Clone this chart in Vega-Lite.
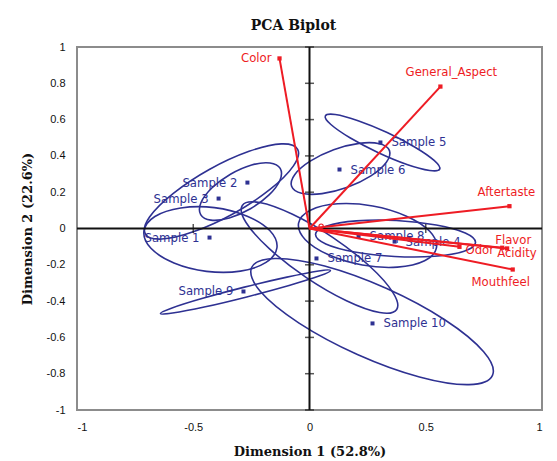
{
  "$schema": "https://vega.github.io/schema/vega-lite/v6.json",
  "width": 465,
  "height": 363,
  "autosize": "none",
  "padding": {"left": 77, "top": 47, "right": 15, "bottom": 51},
  "background": "white",
  "title": {"text": "PCA Biplot", "font": "DejaVu Serif", "fontSize": 14, "fontWeight": "bold", "color": "#111111", "offset": 8, "dx": -16},
  "config": {
    "view": {"stroke": "#8c8c8c", "strokeWidth": 2},
    "axis": {"grid": false, "ticks": false, "domain": false, "labelOverlap": false, "labelFont": "Liberation Sans", "labelFontSize": 11, "labelColor": "#111111", "titleFont": "DejaVu Serif", "titleFontSize": 13, "titleFontWeight": "bold", "titleColor": "#111111"}
  },
  "datasets": {
    "ellipses": [
      {"s":"Sample 1","i":0,"x":-0.140,"y":-0.106},{"s":"Sample 1","i":1,"x":-0.187,"y":-0.187},{"s":"Sample 1","i":2,"x":-0.297,"y":-0.235},{"s":"Sample 1","i":3,"x":-0.443,"y":-0.236},{"s":"Sample 1","i":4,"x":-0.583,"y":-0.190},{"s":"Sample 1","i":5,"x":-0.682,"y":-0.109},{"s":"Sample 1","i":6,"x":-0.712,"y":-0.015},{"s":"Sample 1","i":7,"x":-0.665,"y":0.066},{"s":"Sample 1","i":8,"x":-0.554,"y":0.113},{"s":"Sample 1","i":9,"x":-0.409,"y":0.115},{"s":"Sample 1","i":10,"x":-0.268,"y":0.068},{"s":"Sample 1","i":11,"x":-0.170,"y":-0.012},
      {"s":"Sample 2","i":0,"x":-0.126,"y":0.331},{"s":"Sample 2","i":1,"x":-0.127,"y":0.266},{"s":"Sample 2","i":2,"x":-0.174,"y":0.185},{"s":"Sample 2","i":3,"x":-0.254,"y":0.109},{"s":"Sample 2","i":4,"x":-0.345,"y":0.058},{"s":"Sample 2","i":5,"x":-0.424,"y":0.046},{"s":"Sample 2","i":6,"x":-0.468,"y":0.077},{"s":"Sample 2","i":7,"x":-0.467,"y":0.142},{"s":"Sample 2","i":8,"x":-0.420,"y":0.223},{"s":"Sample 2","i":9,"x":-0.340,"y":0.299},{"s":"Sample 2","i":10,"x":-0.249,"y":0.350},{"s":"Sample 2","i":11,"x":-0.170,"y":0.361},
      {"s":"Sample 3","i":0,"x":-0.051,"y":0.436},{"s":"Sample 3","i":1,"x":-0.069,"y":0.345},{"s":"Sample 3","i":2,"x":-0.170,"y":0.215},{"s":"Sample 3","i":3,"x":-0.326,"y":0.083},{"s":"Sample 3","i":4,"x":-0.497,"y":-0.017},{"s":"Sample 3","i":5,"x":-0.636,"y":-0.058},{"s":"Sample 3","i":6,"x":-0.706,"y":-0.029},{"s":"Sample 3","i":7,"x":-0.688,"y":0.063},{"s":"Sample 3","i":8,"x":-0.587,"y":0.192},{"s":"Sample 3","i":9,"x":-0.431,"y":0.325},{"s":"Sample 3","i":10,"x":-0.260,"y":0.425},{"s":"Sample 3","i":11,"x":-0.121,"y":0.466},
      {"s":"Sample 4","i":0,"x":0.714,"y":-0.078},{"s":"Sample 4","i":1,"x":0.665,"y":-0.125},{"s":"Sample 4","i":2,"x":0.538,"y":-0.153},{"s":"Sample 4","i":3,"x":0.366,"y":-0.154},{"s":"Sample 4","i":4,"x":0.194,"y":-0.129},{"s":"Sample 4","i":5,"x":0.070,"y":-0.085},{"s":"Sample 4","i":6,"x":0.026,"y":-0.032},{"s":"Sample 4","i":7,"x":0.074,"y":0.014},{"s":"Sample 4","i":8,"x":0.202,"y":0.042},{"s":"Sample 4","i":9,"x":0.374,"y":0.044},{"s":"Sample 4","i":10,"x":0.545,"y":0.019},{"s":"Sample 4","i":11,"x":0.670,"y":-0.025},
      {"s":"Sample 5","i":0,"x":0.560,"y":0.327},{"s":"Sample 5","i":1,"x":0.517,"y":0.320},{"s":"Sample 5","i":2,"x":0.419,"y":0.353},{"s":"Sample 5","i":3,"x":0.294,"y":0.419},{"s":"Sample 5","i":4,"x":0.174,"y":0.500},{"s":"Sample 5","i":5,"x":0.092,"y":0.573},{"s":"Sample 5","i":6,"x":0.068,"y":0.620},{"s":"Sample 5","i":7,"x":0.111,"y":0.628},{"s":"Sample 5","i":8,"x":0.209,"y":0.594},{"s":"Sample 5","i":9,"x":0.334,"y":0.529},{"s":"Sample 5","i":10,"x":0.454,"y":0.448},{"s":"Sample 5","i":11,"x":0.536,"y":0.375},
      {"s":"Sample 6","i":0,"x":0.344,"y":0.429},{"s":"Sample 6","i":1,"x":0.330,"y":0.364},{"s":"Sample 6","i":2,"x":0.264,"y":0.290},{"s":"Sample 6","i":3,"x":0.163,"y":0.227},{"s":"Sample 6","i":4,"x":0.054,"y":0.192},{"s":"Sample 6","i":5,"x":-0.034,"y":0.194},{"s":"Sample 6","i":6,"x":-0.077,"y":0.233},{"s":"Sample 6","i":7,"x":-0.063,"y":0.298},{"s":"Sample 6","i":8,"x":0.003,"y":0.371},{"s":"Sample 6","i":9,"x":0.104,"y":0.434},{"s":"Sample 6","i":10,"x":0.213,"y":0.469},{"s":"Sample 6","i":11,"x":0.301,"y":0.467},
      {"s":"Sample 7","i":0,"x":0.375,"y":-0.446},{"s":"Sample 7","i":1,"x":0.302,"y":-0.463},{"s":"Sample 7","i":2,"x":0.159,"y":-0.398},{"s":"Sample 7","i":3,"x":-0.015,"y":-0.269},{"s":"Sample 7","i":4,"x":-0.173,"y":-0.111},{"s":"Sample 7","i":5,"x":-0.273,"y":0.033},{"s":"Sample 7","i":6,"x":-0.289,"y":0.127},{"s":"Sample 7","i":7,"x":-0.215,"y":0.143},{"s":"Sample 7","i":8,"x":-0.073,"y":0.078},{"s":"Sample 7","i":9,"x":0.101,"y":-0.050},{"s":"Sample 7","i":10,"x":0.259,"y":-0.208},{"s":"Sample 7","i":11,"x":0.359,"y":-0.353},
      {"s":"Sample 8","i":0,"x":0.546,"y":-0.106},{"s":"Sample 8","i":1,"x":0.495,"y":-0.178},{"s":"Sample 8","i":2,"x":0.378,"y":-0.213},{"s":"Sample 8","i":3,"x":0.227,"y":-0.201},{"s":"Sample 8","i":4,"x":0.082,"y":-0.145},{"s":"Sample 8","i":5,"x":-0.018,"y":-0.062},{"s":"Sample 8","i":6,"x":-0.047,"y":0.029},{"s":"Sample 8","i":7,"x":0.004,"y":0.101},{"s":"Sample 8","i":8,"x":0.121,"y":0.136},{"s":"Sample 8","i":9,"x":0.272,"y":0.124},{"s":"Sample 8","i":10,"x":0.417,"y":0.068},{"s":"Sample 8","i":11,"x":0.517,"y":-0.015},
      {"s":"Sample 9","i":0,"x":0.090,"y":-0.231},{"s":"Sample 9","i":1,"x":0.044,"y":-0.261},{"s":"Sample 9","i":2,"x":-0.088,"y":-0.314},{"s":"Sample 9","i":3,"x":-0.270,"y":-0.377},{"s":"Sample 9","i":4,"x":-0.453,"y":-0.433},{"s":"Sample 9","i":5,"x":-0.589,"y":-0.466},{"s":"Sample 9","i":6,"x":-0.641,"y":-0.468},{"s":"Sample 9","i":7,"x":-0.594,"y":-0.439},{"s":"Sample 9","i":8,"x":-0.463,"y":-0.386},{"s":"Sample 9","i":9,"x":-0.280,"y":-0.323},{"s":"Sample 9","i":10,"x":-0.097,"y":-0.268},{"s":"Sample 9","i":11,"x":0.039,"y":-0.234},
      {"s":"Sample 10","i":0,"x":0.787,"y":-0.809},{"s":"Sample 10","i":1,"x":0.686,"y":-0.860},{"s":"Sample 10","i":2,"x":0.473,"y":-0.818},{"s":"Sample 10","i":3,"x":0.206,"y":-0.694},{"s":"Sample 10","i":4,"x":-0.045,"y":-0.521},{"s":"Sample 10","i":5,"x":-0.212,"y":-0.346},{"s":"Sample 10","i":6,"x":-0.249,"y":-0.215},{"s":"Sample 10","i":7,"x":-0.148,"y":-0.165},{"s":"Sample 10","i":8,"x":0.065,"y":-0.207},{"s":"Sample 10","i":9,"x":0.332,"y":-0.331},{"s":"Sample 10","i":10,"x":0.583,"y":-0.504},{"s":"Sample 10","i":11,"x":0.749,"y":-0.679}
    ],
    "samples": [
      {"name":"Sample 1","x":-0.430,"y":-0.050},
      {"name":"Sample 2","x":-0.267,"y":0.253},
      {"name":"Sample 3","x":-0.391,"y":0.165},
      {"name":"Sample 4","x":0.366,"y":-0.072},
      {"name":"Sample 5","x":0.305,"y":0.474},
      {"name":"Sample 6","x":0.129,"y":0.325},
      {"name":"Sample 7","x":0.030,"y":-0.165},
      {"name":"Sample 8","x":0.211,"y":-0.044},
      {"name":"Sample 9","x":-0.284,"y":-0.347},
      {"name":"Sample 10","x":0.271,"y":-0.523}
    ],
    "vars": [
      {"name":"Color","x":-0.129,"y":0.937},
      {"name":"General_Aspect","x":0.563,"y":0.782},
      {"name":"Aftertaste","x":0.860,"y":0.123},
      {"name":"Flavor","x":0.829,"y":-0.106},
      {"name":"Acidity","x":0.850,"y":-0.110},
      {"name":"Odor","x":0.645,"y":-0.101},
      {"name":"Mouthfeel","x":0.874,"y":-0.226}
    ],
    "extra": [{"x":0.050,"y":0.013}],
    "zero": [{"v":0}],
    "yticks": [{"v":-1},{"v":-0.8},{"v":-0.6},{"v":-0.4},{"v":-0.2},{"v":0.2},{"v":0.4},{"v":0.6},{"v":0.8},{"v":1}],
    "xticks": [{"v":-0.5},{"v":0.5}]
  },
  "layer": [
    {
      "data": {"name": "ellipses"},
      "mark": {"type": "line", "interpolate": "cardinal-closed", "color": "#2e3192", "strokeWidth": 1.6},
      "encoding": {
        "x": {"field": "x", "type": "quantitative", "scale": {"domain": [-1, 1], "nice": false, "zero": false},
              "axis": {"title": "Dimension 1 (52.8%)", "values": [-1, -0.5, 0, 0.5, 1], "tickCount": 20, "labelOverlap": false, "labelExpr": "replace(format(datum.value,'~g'),'\u2212','-')", "labelPadding": 11, "titlePadding": 13}},
        "y": {"field": "y", "type": "quantitative", "scale": {"domain": [-1, 1], "nice": false, "zero": false},
              "axis": {"title": "Dimension 2 (22.6%)", "values": [-1, -0.8, -0.6, -0.4, -0.2, 0, 0.2, 0.4, 0.6, 0.8, 1], "tickCount": 20, "labelOverlap": false, "labelExpr": "replace(format(datum.value,'~g'),'\u2212','-')", "labelPadding": 12, "titlePadding": 12}},
        "detail": {"field": "s", "type": "nominal"},
        "order": {"field": "i", "type": "quantitative"}
      }
    },
    {
      "data": {"name": "zero"},
      "mark": {"type": "rule", "color": "#111111", "strokeWidth": 2},
      "encoding": {"x": {"field": "v", "type": "quantitative", "scale": {"domain": [-1, 1], "nice": false, "zero": false}}}
    },
    {
      "data": {"name": "zero"},
      "mark": {"type": "rule", "color": "#111111", "strokeWidth": 2},
      "encoding": {"y": {"field": "v", "type": "quantitative", "scale": {"domain": [-1, 1], "nice": false, "zero": false}}}
    },
    {
      "data": {"name": "yticks"},
      "mark": {"type": "tick", "orient": "horizontal", "size": 9, "thickness": 1.5, "color": "#111111"},
      "encoding": {
        "y": {"field": "v", "type": "quantitative", "scale": {"domain": [-1, 1], "nice": false, "zero": false}},
        "x": {"datum": 0, "type": "quantitative", "scale": {"domain": [-1, 1], "nice": false, "zero": false}}
      }
    },
    {
      "data": {"name": "xticks"},
      "mark": {"type": "tick", "orient": "vertical", "size": 9, "thickness": 1.5, "color": "#111111"},
      "encoding": {
        "x": {"field": "v", "type": "quantitative", "scale": {"domain": [-1, 1], "nice": false, "zero": false}},
        "y": {"datum": 0, "type": "quantitative", "scale": {"domain": [-1, 1], "nice": false, "zero": false}}
      }
    },
    {
      "data": {"name": "samples"},
      "mark": {"type": "point", "shape": "square", "filled": true, "size": 16, "color": "#2e3192", "opacity": 1},
      "encoding": {
        "x": {"field": "x", "type": "quantitative", "scale": {"domain": [-1, 1], "nice": false, "zero": false}},
        "y": {"field": "y", "type": "quantitative", "scale": {"domain": [-1, 1], "nice": false, "zero": false}}
      }
    },
    {
      "data": {"name": "samples"},
      "transform": [{"filter": "indexof(['Sample 1','Sample 2','Sample 3','Sample 9'], datum.name) >= 0"}],
      "mark": {"type": "text", "align": "right", "baseline": "middle", "dx": -10, "font": "DejaVu Sans", "fontSize": 11.7, "color": "#2e3192"},
      "encoding": {
        "x": {"field": "x", "type": "quantitative", "scale": {"domain": [-1, 1], "nice": false, "zero": false}},
        "y": {"field": "y", "type": "quantitative", "scale": {"domain": [-1, 1], "nice": false, "zero": false}},
        "text": {"field": "name", "type": "nominal"}
      }
    },
    {
      "data": {"name": "samples"},
      "transform": [{"filter": "indexof(['Sample 1','Sample 2','Sample 3','Sample 9'], datum.name) < 0"}],
      "mark": {"type": "text", "align": "left", "baseline": "middle", "dx": 11, "font": "DejaVu Sans", "fontSize": 11.7, "color": "#2e3192"},
      "encoding": {
        "x": {"field": "x", "type": "quantitative", "scale": {"domain": [-1, 1], "nice": false, "zero": false}},
        "y": {"field": "y", "type": "quantitative", "scale": {"domain": [-1, 1], "nice": false, "zero": false}},
        "text": {"field": "name", "type": "nominal"}
      }
    },
    {
      "data": {"name": "vars"},
      "mark": {"type": "rule", "color": "#ee1c24", "strokeWidth": 2},
      "encoding": {
        "x": {"field": "x", "type": "quantitative", "scale": {"domain": [-1, 1], "nice": false, "zero": false}},
        "y": {"field": "y", "type": "quantitative", "scale": {"domain": [-1, 1], "nice": false, "zero": false}},
        "x2": {"datum": 0},
        "y2": {"datum": 0}
      }
    },
    {
      "data": {"name": "vars"},
      "mark": {"type": "point", "shape": "square", "filled": true, "size": 18, "color": "#ee1c24", "opacity": 1},
      "encoding": {
        "x": {"field": "x", "type": "quantitative", "scale": {"domain": [-1, 1], "nice": false, "zero": false}},
        "y": {"field": "y", "type": "quantitative", "scale": {"domain": [-1, 1], "nice": false, "zero": false}}
      }
    },
    {
      "data": {"name": "extra"},
      "mark": {"type": "point", "shape": "circle", "filled": false, "size": 18, "color": "#ee1c24", "strokeWidth": 1.2, "opacity": 1},
      "encoding": {
        "x": {"field": "x", "type": "quantitative", "scale": {"domain": [-1, 1], "nice": false, "zero": false}},
        "y": {"field": "y", "type": "quantitative", "scale": {"domain": [-1, 1], "nice": false, "zero": false}}
      }
    },
    {
      "data": {"name": "vars"},
      "transform": [{"filter": "datum.name === 'Color'"}],
      "mark": {"type": "text", "align": "right", "baseline": "middle", "dx": -8, "dy": 0, "font": "DejaVu Sans", "fontSize": 11.7, "color": "#ee1c24"},
      "encoding": {
        "x": {"field": "x", "type": "quantitative", "scale": {"domain": [-1, 1], "nice": false, "zero": false}},
        "y": {"field": "y", "type": "quantitative", "scale": {"domain": [-1, 1], "nice": false, "zero": false}},
        "text": {"field": "name", "type": "nominal"}
      }
    },
    {
      "data": {"name": "vars"},
      "transform": [{"filter": "datum.name === 'General_Aspect'"}],
      "mark": {"type": "text", "align": "center", "baseline": "middle", "dx": 11, "dy": -15, "font": "DejaVu Sans", "fontSize": 11.7, "color": "#ee1c24"},
      "encoding": {
        "x": {"field": "x", "type": "quantitative", "scale": {"domain": [-1, 1], "nice": false, "zero": false}},
        "y": {"field": "y", "type": "quantitative", "scale": {"domain": [-1, 1], "nice": false, "zero": false}},
        "text": {"field": "name", "type": "nominal"}
      }
    },
    {
      "data": {"name": "vars"},
      "transform": [{"filter": "datum.name === 'Aftertaste'"}],
      "mark": {"type": "text", "align": "center", "baseline": "middle", "dx": -3, "dy": -14, "font": "DejaVu Sans", "fontSize": 11.7, "color": "#ee1c24"},
      "encoding": {
        "x": {"field": "x", "type": "quantitative", "scale": {"domain": [-1, 1], "nice": false, "zero": false}},
        "y": {"field": "y", "type": "quantitative", "scale": {"domain": [-1, 1], "nice": false, "zero": false}},
        "text": {"field": "name", "type": "nominal"}
      }
    },
    {
      "data": {"name": "vars"},
      "transform": [{"filter": "datum.name === 'Flavor'"}],
      "mark": {"type": "text", "align": "left", "baseline": "middle", "dx": -7, "dy": -8, "font": "DejaVu Sans", "fontSize": 11.7, "color": "#ee1c24"},
      "encoding": {
        "x": {"field": "x", "type": "quantitative", "scale": {"domain": [-1, 1], "nice": false, "zero": false}},
        "y": {"field": "y", "type": "quantitative", "scale": {"domain": [-1, 1], "nice": false, "zero": false}},
        "text": {"field": "name", "type": "nominal"}
      }
    },
    {
      "data": {"name": "vars"},
      "transform": [{"filter": "datum.name === 'Acidity'"}],
      "mark": {"type": "text", "align": "left", "baseline": "middle", "dx": -10, "dy": 5, "font": "DejaVu Sans", "fontSize": 11.7, "color": "#ee1c24"},
      "encoding": {
        "x": {"field": "x", "type": "quantitative", "scale": {"domain": [-1, 1], "nice": false, "zero": false}},
        "y": {"field": "y", "type": "quantitative", "scale": {"domain": [-1, 1], "nice": false, "zero": false}},
        "text": {"field": "name", "type": "nominal"}
      }
    },
    {
      "data": {"name": "vars"},
      "transform": [{"filter": "datum.name === 'Odor'"}],
      "mark": {"type": "text", "align": "left", "baseline": "middle", "dx": 6, "dy": 3, "font": "DejaVu Sans", "fontSize": 11.7, "color": "#ee1c24"},
      "encoding": {
        "x": {"field": "x", "type": "quantitative", "scale": {"domain": [-1, 1], "nice": false, "zero": false}},
        "y": {"field": "y", "type": "quantitative", "scale": {"domain": [-1, 1], "nice": false, "zero": false}},
        "text": {"field": "name", "type": "nominal"}
      }
    },
    {
      "data": {"name": "vars"},
      "transform": [{"filter": "datum.name === 'Mouthfeel'"}],
      "mark": {"type": "text", "align": "center", "baseline": "middle", "dx": -12, "dy": 12, "font": "DejaVu Sans", "fontSize": 11.7, "color": "#ee1c24"},
      "encoding": {
        "x": {"field": "x", "type": "quantitative", "scale": {"domain": [-1, 1], "nice": false, "zero": false}},
        "y": {"field": "y", "type": "quantitative", "scale": {"domain": [-1, 1], "nice": false, "zero": false}},
        "text": {"field": "name", "type": "nominal"}
      }
    }
  ]
}
